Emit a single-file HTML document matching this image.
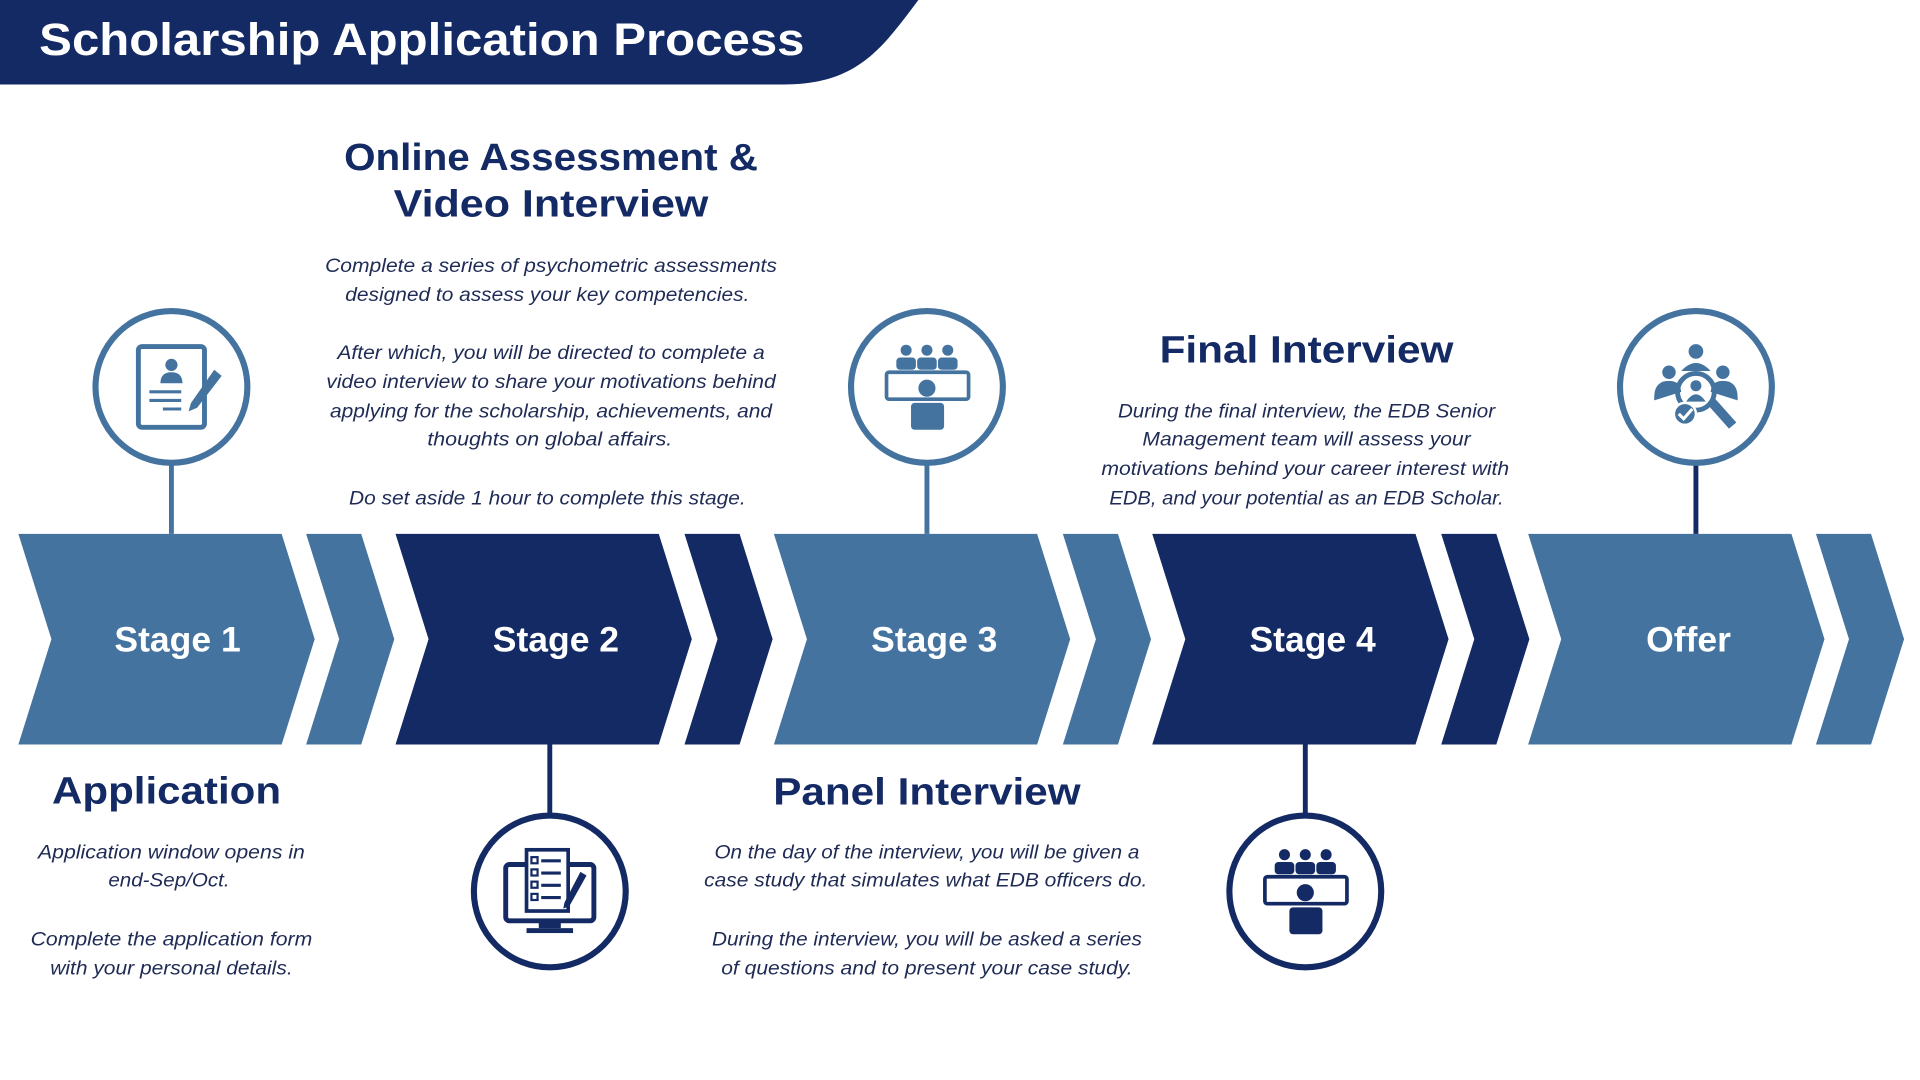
<!DOCTYPE html>
<html><head><meta charset="utf-8"><style>
html,body{margin:0;padding:0;background:#fff;width:1920px;height:1080px;overflow:hidden}
svg{display:block}
.h{font-family:"Liberation Sans",sans-serif;font-weight:bold;fill:#142a64;text-anchor:middle}
.d{font-family:"Liberation Sans",sans-serif;font-style:italic;fill:#1f2b55;font-size:16px;text-anchor:middle}
.s{font-family:"Liberation Sans",sans-serif;font-weight:bold;fill:#fff;font-size:29px;text-anchor:middle}
</style></head><body>
<svg width="1920" height="1080" viewBox="0 0 1568 882" xmlns="http://www.w3.org/2000/svg">
<path d="M0 0 H750 C720 40 700 69 640 69 H0 Z" fill="#142a64"/>
<text x="32" y="45" font-family="Liberation Sans,sans-serif" font-weight="bold" font-size="37" fill="#fff" textLength="625" lengthAdjust="spacingAndGlyphs">Scholarship Application Process</text>

<g>
<path d="M15 436H230L257 522L230 608H15L42 522Z" fill="#44739f"/>
<path d="M250 436H295L322 522L295 608H250L277 522Z" fill="#44739f"/>
<path d="M323 436H538L565 522L538 608H323L350 522Z" fill="#142a64"/>
<path d="M559 436H604L631 522L604 608H559L586 522Z" fill="#142a64"/>
<path d="M632 436H847L874 522L847 608H632L659 522Z" fill="#44739f"/>
<path d="M868 436H913L940 522L913 608H868L895 522Z" fill="#44739f"/>
<path d="M941 436H1156L1183 522L1156 608H941L968 522Z" fill="#142a64"/>
<path d="M1177 436H1222L1249 522L1222 608H1177L1204 522Z" fill="#142a64"/>
<path d="M1248 436H1463L1490 522L1463 608H1248L1275 522Z" fill="#44739f"/>
<path d="M1483 436H1528L1555 522L1528 608H1483L1510 522Z" fill="#44739f"/>
</g>
<text class="s" x="145" y="532">Stage 1</text>
<text class="s" x="454" y="532">Stage 2</text>
<text class="s" x="763" y="532">Stage 3</text>
<text class="s" x="1072" y="532">Stage 4</text>
<text class="s" x="1379" y="532">Offer</text>

<g fill="none" stroke-width="5">
<line x1="140" y1="378" x2="140" y2="436" stroke="#44739f" stroke-width="4"/>
<circle cx="140" cy="316" r="62" stroke="#44739f"/>
<line x1="757" y1="378" x2="757" y2="436" stroke="#44739f" stroke-width="4"/>
<circle cx="757" cy="316" r="62" stroke="#44739f"/>
<line x1="1385" y1="378" x2="1385" y2="436" stroke="#142a64" stroke-width="4"/>
<circle cx="1385" cy="316" r="62" stroke="#44739f"/>
<line x1="449" y1="608" x2="449" y2="666" stroke="#142a64" stroke-width="4"/>
<circle cx="449" cy="728" r="62" stroke="#142a64"/>
<line x1="1066" y1="608" x2="1066" y2="666" stroke="#142a64" stroke-width="4"/>
<circle cx="1066" cy="728" r="62" stroke="#142a64"/>
</g>

<g fill="#44739f" stroke="#44739f">
<rect x="113" y="283" width="54" height="66" rx="3" fill="none" stroke-width="4"/>
<circle cx="140" cy="298" r="5" stroke="none"/>
<path d="M131 313 Q131 304 140 304 Q149 304 149 313Z" stroke="none"/>
<line x1="122" y1="320" x2="148" y2="320" stroke-width="2.5"/>
<line x1="122" y1="327" x2="148" y2="327" stroke-width="2.5"/>
<line x1="133" y1="334" x2="148" y2="334" stroke-width="2.5"/>
<path d="M175 302 L181 307 L161 333 L154 336 L156 329Z" stroke="none"/>
</g>

<g fill="#44739f">
<circle cx="740" cy="286" r="4.5"/><circle cx="757" cy="286" r="4.5"/><circle cx="774" cy="286" r="4.5"/>
<rect x="732" y="292" width="16" height="10" rx="3"/><rect x="749" y="292" width="16" height="10" rx="3"/><rect x="766" y="292" width="16" height="10" rx="3"/>
<rect x="724" y="304" width="67" height="22" rx="2" fill="none" stroke="#44739f" stroke-width="3"/>
<circle cx="757" cy="317" r="7"/>
<rect x="744" y="329" width="27" height="22" rx="3"/>
</g>
<g fill="#142a64">
<circle cx="1049" cy="698" r="4.5"/><circle cx="1066" cy="698" r="4.5"/><circle cx="1083" cy="698" r="4.5"/>
<rect x="1041" y="704" width="16" height="10" rx="3"/><rect x="1058" y="704" width="16" height="10" rx="3"/><rect x="1075" y="704" width="16" height="10" rx="3"/>
<rect x="1033" y="716" width="67" height="22" rx="2" fill="none" stroke="#142a64" stroke-width="3"/>
<circle cx="1066" cy="729" r="7"/>
<rect x="1053" y="741" width="27" height="22" rx="3"/>
</g>

<g fill="#142a64" stroke="#142a64">
<rect x="413" y="706" width="72" height="46" rx="3" fill="none" stroke-width="4"/>
<rect x="440" y="752" width="18" height="6" stroke="none"/>
<rect x="430" y="758" width="38" height="4" stroke="none"/>
<rect x="430" y="694" width="34" height="50" fill="#fff" stroke-width="3"/>
<g stroke-width="2.5"><line x1="442" y1="703" x2="458" y2="703"/><line x1="442" y1="713" x2="458" y2="713"/><line x1="442" y1="723" x2="458" y2="723"/><line x1="442" y1="733" x2="458" y2="733"/></g>
<g fill="none" stroke-width="1.8"><rect x="434" y="700" width="5" height="5"/><rect x="434" y="710" width="5" height="5"/><rect x="434" y="720" width="5" height="5"/><rect x="434" y="730" width="5" height="5"/></g>
<path d="M474 712 L479 715 L465 740 L460 742 L461 737Z" stroke="none"/>
</g>

<g fill="#44739f">
<circle cx="1385" cy="287" r="6"/>
<path d="M1373 303 Q1385 290 1397 303Z"/>
<circle cx="1363" cy="304" r="5.5"/><circle cx="1407" cy="304" r="5.5"/>
<path d="M1351 327 Q1350 311 1363 311 Q1372 311 1373 320Z"/>
<path d="M1419 327 Q1420 311 1407 311 Q1398 311 1397 320Z"/>
<circle cx="1385" cy="320" r="15" fill="none" stroke="#44739f" stroke-width="4"/>
<circle cx="1385" cy="315" r="4.5"/>
<path d="M1377 328 Q1385 316 1393 328Z"/>
<path d="M1395 331 L1401 326 L1418 345 L1412 350Z"/>
<circle cx="1376" cy="338" r="9" stroke="#fff" stroke-width="2"/>
<path d="M1371 338 L1375 342 L1382 334" fill="none" stroke="#fff" stroke-width="2.5"/>
</g>

<g lengthAdjust="spacingAndGlyphs">
<text class="h" x="450" y="139" font-size="31" textLength="338" lengthAdjust="spacingAndGlyphs">Online Assessment &amp;</text>
<text class="h" x="450" y="177" font-size="31" textLength="257" lengthAdjust="spacingAndGlyphs">Video Interview</text>
<text class="d" x="450" y="222" textLength="369" lengthAdjust="spacingAndGlyphs">Complete a series of psychometric assessments</text>
<text class="d" x="447" y="246" textLength="330" lengthAdjust="spacingAndGlyphs">designed to assess your key competencies.</text>
<text class="d" x="450" y="293" textLength="349" lengthAdjust="spacingAndGlyphs">After which, you will be directed to complete a</text>
<text class="d" x="450" y="317" textLength="367" lengthAdjust="spacingAndGlyphs">video interview to share your motivations behind</text>
<text class="d" x="450" y="341" textLength="361" lengthAdjust="spacingAndGlyphs">applying for the scholarship, achievements, and</text>
<text class="d" x="449" y="364" textLength="200" lengthAdjust="spacingAndGlyphs">thoughts on global affairs.</text>
<text class="d" x="447" y="412" textLength="324" lengthAdjust="spacingAndGlyphs">Do set aside 1 hour to complete this stage.</text>

<text class="h" x="1067" y="296" font-size="31" textLength="240" lengthAdjust="spacingAndGlyphs">Final Interview</text>
<text class="d" x="1067" y="341" textLength="308" lengthAdjust="spacingAndGlyphs">During the final interview, the EDB Senior</text>
<text class="d" x="1067" y="364" textLength="268" lengthAdjust="spacingAndGlyphs">Management team will assess your</text>
<text class="d" x="1066" y="388" textLength="333" lengthAdjust="spacingAndGlyphs">motivations behind your career interest with</text>
<text class="d" x="1067" y="412" textLength="322" lengthAdjust="spacingAndGlyphs">EDB, and your potential as an EDB Scholar.</text>

<text class="h" x="136" y="656" font-size="31" textLength="187" lengthAdjust="spacingAndGlyphs">Application</text>
<text class="d" x="140" y="701" textLength="218" lengthAdjust="spacingAndGlyphs">Application window opens in</text>
<text class="d" x="138" y="724" textLength="99" lengthAdjust="spacingAndGlyphs">end-Sep/Oct.</text>
<text class="d" x="140" y="772" textLength="230" lengthAdjust="spacingAndGlyphs">Complete the application form</text>
<text class="d" x="140" y="796" textLength="198" lengthAdjust="spacingAndGlyphs">with your personal details.</text>

<text class="h" x="757" y="657" font-size="31" textLength="251" lengthAdjust="spacingAndGlyphs">Panel Interview</text>
<text class="d" x="757" y="701" textLength="347" lengthAdjust="spacingAndGlyphs">On the day of the interview, you will be given a</text>
<text class="d" x="756" y="724" textLength="362" lengthAdjust="spacingAndGlyphs">case study that simulates what EDB officers do.</text>
<text class="d" x="757" y="772" textLength="351" lengthAdjust="spacingAndGlyphs">During the interview, you will be asked a series</text>
<text class="d" x="757" y="796" textLength="336" lengthAdjust="spacingAndGlyphs">of questions and to present your case study.</text>
</g>
</svg>
</body></html>
